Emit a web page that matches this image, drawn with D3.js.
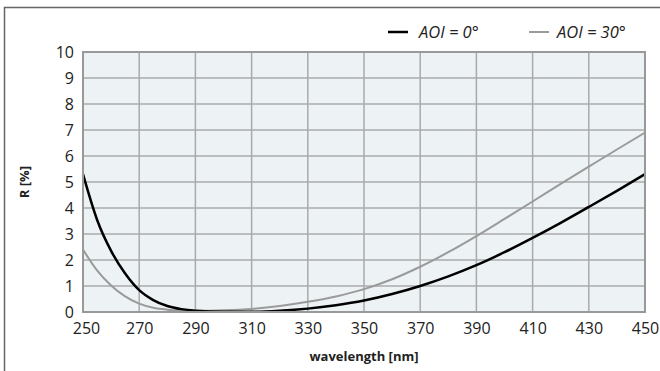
<!DOCTYPE html>
<html><head><meta charset="utf-8">
<script src="https://cdn.jsdelivr.net/npm/d3@7"></script>
<style>body{margin:0;background:#fff;} svg{display:block;font-family:"Open Sans",sans-serif;}</style>
</head><body>
<svg id="c" width="660" height="371"></svg>
<script>
const wavelengths = [250,255,260,265,270,275,280,285,290,300,310,320,330,340,350,360,370,380,390,400,410,420,430,440,450];
const aoi0  = [5.3,3.55,2.35,1.48,0.84,0.46,0.23,0.11,0.05,0.01,0.01,0.05,0.13,0.26,0.44,0.69,1.0,1.37,1.8,2.3,2.85,3.43,4.04,4.66,5.3];
const aoi30 = [2.4,1.6,1.02,0.6,0.32,0.16,0.09,0.06,0.05,0.07,0.12,0.23,0.39,0.6,0.88,1.26,1.74,2.3,2.92,3.58,4.25,4.93,5.59,6.25,6.9];
const xTicks = [250,270,290,310,330,350,370,390,410,430,450];
const yTicks = [0,1,2,3,4,5,6,7,8,9,10];
const seriesNames = ["AOI = 0°","AOI = 30°"];

const svg = d3.select("#c");
const L=83, R=645, T=52, B=312;
const x = d3.scaleLinear().domain([250,450]).range([L,R]);
const y = d3.scaleLinear().domain([0,10]).range([B,T]);

// outer frame
svg.append("rect").attr("x",4.5).attr("y",7.5).attr("width",700).attr("height",400)
  .attr("fill","none").attr("stroke","#666").attr("stroke-width",1.5);

svg.append("rect").attr("x",L).attr("y",T).attr("width",R-L).attr("height",B-T).attr("fill","#edf2f5");

const g = svg.append("g");
g.selectAll(".vg").data(xTicks).join("line")
  .attr("x1",d=>x(d)).attr("x2",d=>x(d)).attr("y1",T).attr("y2",B)
  .attr("stroke","#aaa").attr("stroke-width",1.5);
g.selectAll(".hg").data(yTicks).join("line")
  .attr("x1",L).attr("x2",R).attr("y1",d=>y(d)).attr("y2",d=>y(d))
  .attr("stroke","#aaa").attr("stroke-width",1.5);

const line = d3.line().curve(d3.curveMonotoneX);
const pts = arr => wavelengths.map((w,i)=>[x(w),y(arr[i])]);
svg.append("path").attr("d",line(pts(aoi30))).attr("fill","none").attr("stroke","#9a9a9a").attr("stroke-width",2);
svg.append("path").attr("d",line(pts(aoi0))).attr("fill","none").attr("stroke","#000").attr("stroke-width",2.5);

svg.append("rect").attr("x",L).attr("y",T).attr("width",R-L).attr("height",B-T)
  .attr("fill","none").attr("stroke","#999").attr("stroke-width",2);

// axes
const xa = svg.append("g").attr("transform",`translate(0,${B})`)
  .call(d3.axisBottom(x).tickValues(xTicks).tickSize(0).tickPadding(8).tickFormat(d3.format("d")));
xa.select(".domain").remove();
xa.selectAll("text").attr("font-size",16).attr("fill","#222").attr("font-family","Open Sans, sans-serif").attr("dy","0.85em");
xa.selectAll(".tick").filter(d=>d===250).select("text").attr("dx",3);
const ya = svg.append("g").attr("transform",`translate(${L},0)`)
  .call(d3.axisLeft(y).tickValues(yTicks).tickSize(0).tickPadding(9).tickFormat(d3.format("d")));
ya.select(".domain").remove();
ya.selectAll("text").attr("font-size",16).attr("fill","#222").attr("font-family","Open Sans, sans-serif");

svg.append("text").attr("x",(L+R)/2).attr("y",361).attr("text-anchor","middle")
  .attr("font-size",13).attr("font-weight","bold").attr("fill","#222").text("wavelength [nm]");
svg.append("text").attr("transform",`translate(29,${(T+B)/2}) rotate(-90)`).attr("text-anchor","middle")
  .attr("font-size",13).attr("font-weight","bold").attr("fill","#222").text("R [%]");

// legend
const leg = [{x:388,c:"#000",w:2.5,tx:419},{x:529,c:"#9a9a9a",w:2,tx:557}];
leg.forEach((d,i)=>{
  svg.append("line").attr("x1",d.x).attr("x2",d.x+20).attr("y1",32).attr("y2",32).attr("stroke",d.c).attr("stroke-width",d.w);
  svg.append("text").attr("x",d.tx).attr("y",38).attr("font-size",16.5).attr("font-style","italic").attr("fill","#222").text(seriesNames[i]);
});
</script>
</body></html>
